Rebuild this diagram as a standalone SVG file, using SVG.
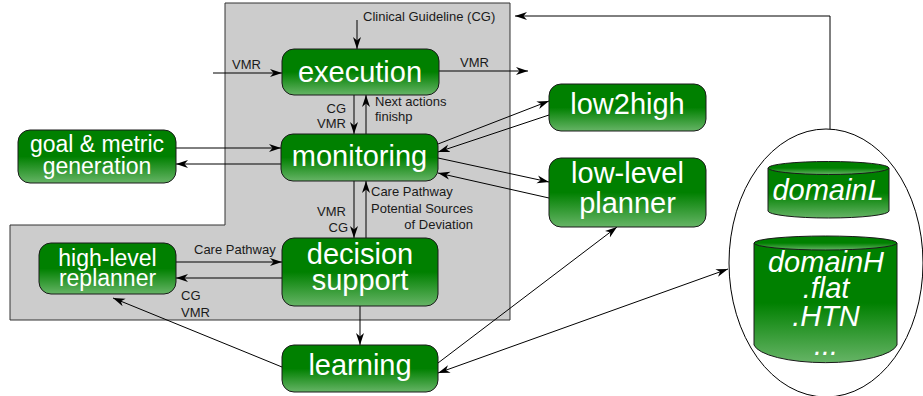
<svg xmlns="http://www.w3.org/2000/svg" width="923" height="396" viewBox="0 0 923 396">
<defs>
<linearGradient id="g" x1="0" y1="0" x2="0" y2="1">
<stop offset="0" stop-color="#008000"/>
<stop offset="0.5" stop-color="#008000"/>
<stop offset="1" stop-color="#66b466"/>
</linearGradient>
<marker id="ah" viewBox="0 0 12 10" refX="12" refY="5" markerWidth="12" markerHeight="10" markerUnits="userSpaceOnUse" orient="auto-start-reverse">
<path d="M0,1 L12,5 L0,9 L3.5,5 Z" fill="#000"/>
</marker>
</defs>
<style>
.n{fill:url(#g);stroke:#1a1a1a;stroke-width:1}
.t{fill:#fff;font-family:"Liberation Sans",Arial,sans-serif;font-size:29px;text-anchor:middle}
.t23{font-size:23px}
.i{font-style:italic}
.s{fill:#1a1a1a;font-family:"Liberation Sans",Arial,sans-serif;font-size:13px}
.c{fill:none;stroke:#000;stroke-width:1}
.a{marker-end:url(#ah)}
.b{marker-start:url(#ah);marker-end:url(#ah)}
</style>
<path id="area" d="M225,3 H510 V320 H10 V225 H225 Z" fill="#cccccc" stroke="#333" stroke-width="1"/>
<g id="connectors">
<path class="c a" d="M357,20 V49"/>
<path class="c a" d="M830,129 V16 H515" stroke="#555"/>
<path class="c a" d="M213,73 H282"/>
<path class="c a" d="M439,71 H528"/>
<path class="c a" d="M354,95 V134"/>
<path class="c a" d="M366,134 V95"/>
<path class="c a" d="M354,181 V238"/>
<path class="c a" d="M366,238 V181"/>
<path class="c a" d="M176,148 H281"/>
<path class="c a" d="M281,164 H176"/>
<path class="c a" d="M176,262 H282"/>
<path class="c a" d="M282,278 H176"/>
<path class="c a" d="M360,306 V345"/>
<path class="c a" d="M282,367 L113,298"/>
<path class="c a" d="M438,363 L617,227"/>
<path class="c b" d="M438,373 L728,269"/>
<path class="c a" d="M438,144 L549,101"/>
<path class="c a" d="M549,115 L438,152"/>
<path class="c a" d="M438,158 L549,182"/>
<path class="c a" d="M549,198 L438,173"/>
</g>
<g id="labels">
<text class="s" x="363" y="21">Clinical Guideline (CG)</text>
<text class="s" x="232" y="69">VMR</text>
<text class="s" x="460" y="67">VMR</text>
<text class="s" x="346" y="113" text-anchor="end">CG</text>
<text class="s" x="346" y="128" text-anchor="end">VMR</text>
<text class="s" x="375" y="106">Next actions</text>
<text class="s" x="375" y="121">finishp</text>
<text class="s" x="346" y="216" text-anchor="end">VMR</text>
<text class="s" x="348" y="232" text-anchor="end">CG</text>
<text class="s" x="371" y="196">Care Pathway</text>
<text class="s" x="371" y="213">Potential Sources</text>
<text class="s" x="473" y="229" text-anchor="end">of Deviation</text>
<text class="s" x="194" y="254">Care Pathway</text>
<text class="s" x="181" y="300">CG</text>
<text class="s" x="181" y="317">VMR</text>
</g>
<g id="execution">
<rect class="n" x="282" y="49" width="157" height="46" rx="12"/>
<text class="t" x="360" y="82">execution</text>
</g>
<g id="monitoring">
<rect class="n" x="281" y="134" width="157" height="47" rx="12"/>
<text class="t" x="359.5" y="166">monitoring</text>
</g>
<g id="decision-support">
<rect class="n" x="282" y="238" width="156" height="68" rx="12"/>
<text class="t" x="360" y="264">decision</text>
<text class="t" x="360" y="290">support</text>
</g>
<g id="goal-metric">
<rect class="n" x="18" y="130" width="158" height="53" rx="12"/>
<text class="t t23" x="97" y="152">goal &amp; metric</text>
<text class="t t23" x="97" y="174">generation</text>
</g>
<g id="high-level-replanner">
<rect class="n" x="39" y="243" width="137" height="51" rx="12"/>
<text class="t t23" x="107.5" y="266">high-level</text>
<text class="t t23" x="107.5" y="286">replanner</text>
</g>
<g id="learning">
<rect class="n" x="282" y="345" width="156" height="47" rx="12"/>
<text class="t" x="360" y="375">learning</text>
</g>
<g id="low2high">
<rect class="n" x="549" y="84" width="157" height="47" rx="12"/>
<text class="t" x="627.5" y="114">low2high</text>
</g>
<g id="low-level-planner">
<rect class="n" x="549" y="158" width="157" height="69" rx="12"/>
<text class="t" x="627.5" y="183">low-level</text>
<text class="t" x="627.5" y="213">planner</text>
</g>
<g id="domains">
<ellipse cx="826" cy="263" rx="97" ry="134" fill="#fff" stroke="#000" stroke-width="1"/>
<g id="domainL">
<path class="n" d="M768,168 V211 A60.5,7 0 0 0 889,211 V168"/>
<ellipse class="n" cx="828.5" cy="168" rx="60.5" ry="6.5" fill="#008000"/>
<text class="t i" x="828" y="200">domainL</text>
</g>
<g id="domainH">
<path class="n" d="M754,243 V345 A72,20 0 0 0 897,345 V243"/>
<ellipse class="n" cx="825.5" cy="243" rx="71.5" ry="7" fill="#008000"/>
<text class="t i" x="826" y="272">domainH</text>
<text class="t i" x="826" y="298">.flat</text>
<text class="t i" x="826" y="326">.HTN</text>
<text class="t i" x="826" y="355">...</text>
</g>
</g>
</svg>
